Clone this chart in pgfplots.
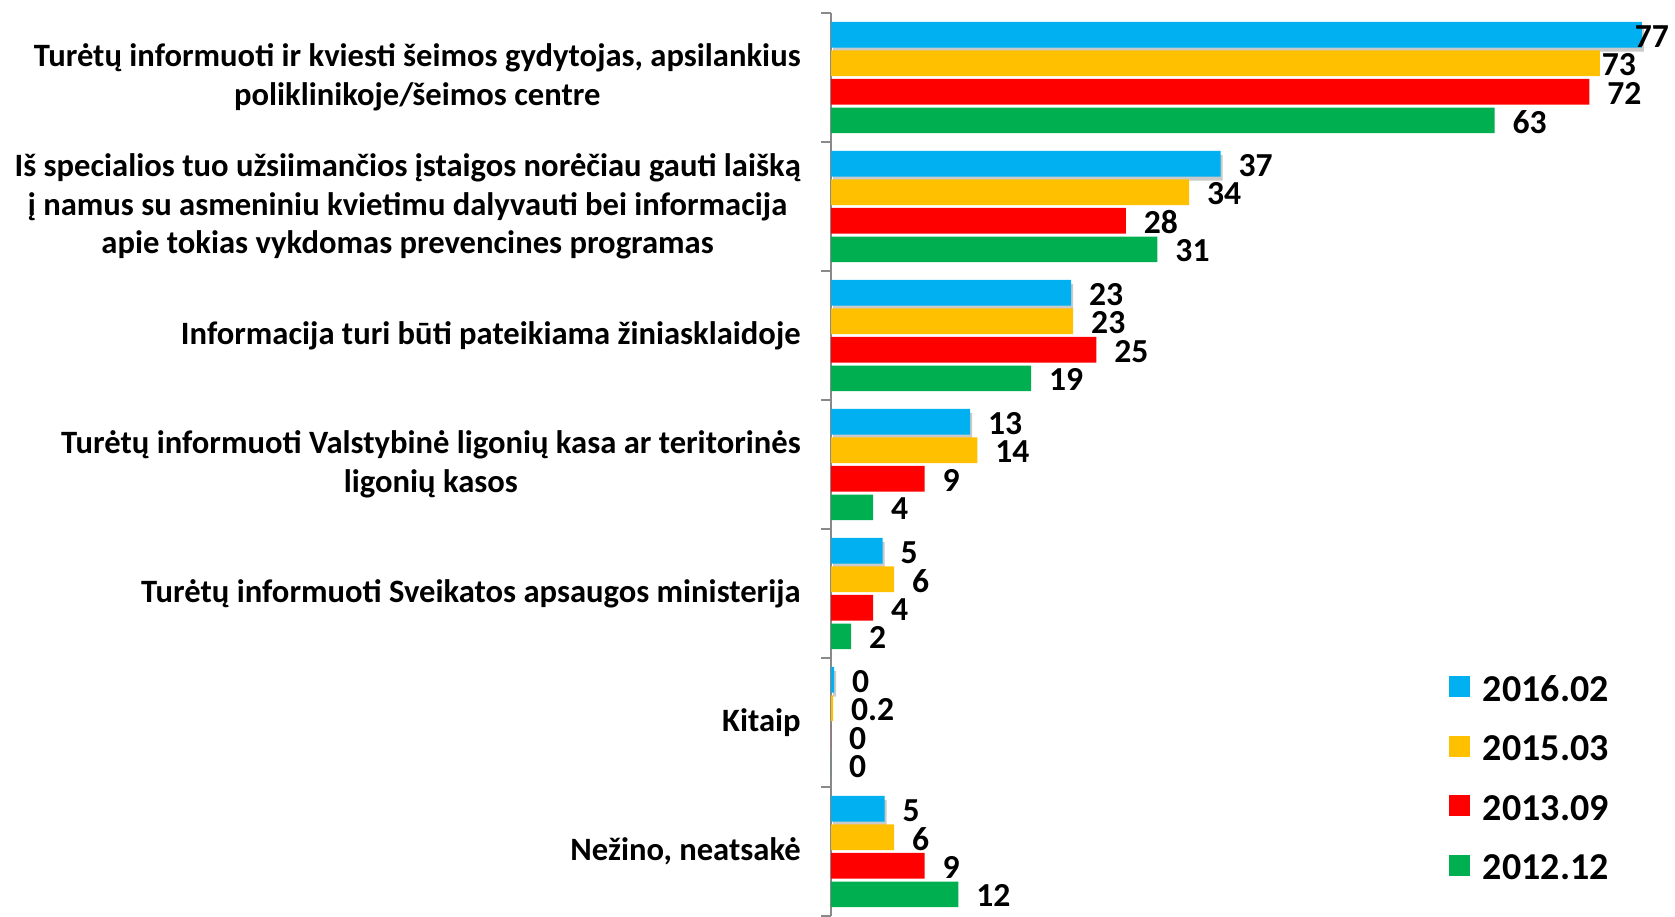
\documentclass[border=0pt]{standalone}
\usepackage{fontspec}
\setmainfont{Carlito}
\usepackage{pgfplots}
\usepackage{pgfplotstable}
\pgfplotsset{compat=1.18}
\usetikzlibrary{shadows}
\definecolor{cBlue}{HTML}{00B0F0}
\definecolor{cYellow}{HTML}{FFC000}
\definecolor{cRed}{HTML}{FF0000}
\definecolor{cGreen}{HTML}{00B050}
\definecolor{axgray}{HTML}{898989}

\pgfplotstableread{
y x label
0 77 \hspace*{-12.5pt}77
1 37 37
2 22.8 23
3 13.2 13
4 4.9 5
5 0.3 0
6 5.1 5
}\tblue
\pgfplotstableread{
y x label
0 73 \hspace*{-8pt}73
1 34 34
2 23 23
3 13.9 14
4 6 6
5 0.2 0.2
6 6 6
}\tyellow
\pgfplotstableread{
y x label
0 72 72
1 28 28
2 25.2 25
3 8.9 9
4 4 4
5 0 0
6 8.9 9
}\tred
\pgfplotstableread{
y x label
0 63 63
1 31 31
2 19 19
3 4 4
4 1.9 2
5 0 0
6 12.1 12
}\tgreen

\begin{document}
\begin{tikzpicture}
\begin{axis}[
  at={(415.5pt,0pt)}, anchor=south west,
  scale only axis, width=422pt, height=451.5pt,
  xbar, bar width=0.198,
  xmin=0, xmax=80.14, ymin=-0.5, ymax=6.5, y dir=reverse,
  axis y line*=left, axis x line=none,
  ytick={0,1,2,3,4,5,6},
  yticklabels={
    {Turėtų informuoti ir kviesti šeimos gydytojas, apsilankius\\poliklinikoje/šeimos centre},
    {Iš specialios tuo užsiimančios įstaigos norėčiau gauti laišką\\į namus su asmeniniu kvietimu dalyvauti bei informacija\\apie tokias vykdomas prevencines programas},
    {Informacija turi būti pateikiama žiniasklaidoje},
    {Turėtų informuoti Valstybinė ligonių kasa ar teritorinės\\ligonių kasos},
    {Turėtų informuoti Sveikatos apsaugos ministerija},
    {Kitaip},
    {Nežino, neatsakė}},
  minor ytick={-0.5,0.5,1.5,2.5,3.5,4.5,5.5,6.5},
  major tick length=0pt, minor tick length=5pt, tick align=outside,
  major tick style={draw=none},
  minor tick style={draw=axgray, line width=1pt},
  y axis line style={draw=axgray, line width=1pt},
  yticklabel style={font=\fontsize{16.3}{19.25}\selectfont\bfseries, align=center, inner sep=0pt, xshift=-15pt},
  clip=false,
  nodes near coords, point meta=explicit symbolic,
  nodes near coords style={font=\fontsize{16.8}{19}\selectfont\bfseries, anchor=west, inner sep=0pt, xshift=8.8pt, yshift=-0.8pt},
  legend image code/.code={\fill[#1, draw=none] (0pt,-4pt) rectangle (10.5pt,6.5pt);},
  legend style={at={(0.7322,0.2655)}, anchor=north west, draw=none, fill=none,
    inner sep=0pt, outer sep=0pt, row sep=17.25pt, column sep=6.5pt,
    font=\fontsize{19}{22}\selectfont\bfseries,
    nodes={inner sep=0pt, text height=12pt, text depth=0pt}},
  legend cell align=left,
]
\addplot[forget plot, fill=cBlue, draw=none, bar shift=-0.3315,
  drop shadow={shadow xshift=1pt, shadow yshift=-2pt, opacity=0.35, fill=black!60}]
  table[x=x, y=y, meta=label] {\tblue};
\addplot[forget plot, fill=cYellow, draw=none, bar shift=-0.1105]
  table[x=x, y=y, meta=label] {\tyellow};
\addplot[forget plot, fill=cRed, draw=none, bar shift=0.1105]
  table[x=x, y=y, meta=label] {\tred};
\addplot[forget plot, fill=cGreen, draw=none, bar shift=0.3315]
  table[x=x, y=y, meta=label] {\tgreen};
\addlegendimage{fill=cBlue}
\addlegendimage{fill=cYellow}
\addlegendimage{fill=cRed}
\addlegendimage{fill=cGreen}
\legend{2016.02, 2015.03, 2013.09, 2012.12}
\end{axis}
\pgfresetboundingbox
\path[use as bounding box] (0,0) rectangle (837.5pt,458pt);
\end{tikzpicture}
\end{document}
